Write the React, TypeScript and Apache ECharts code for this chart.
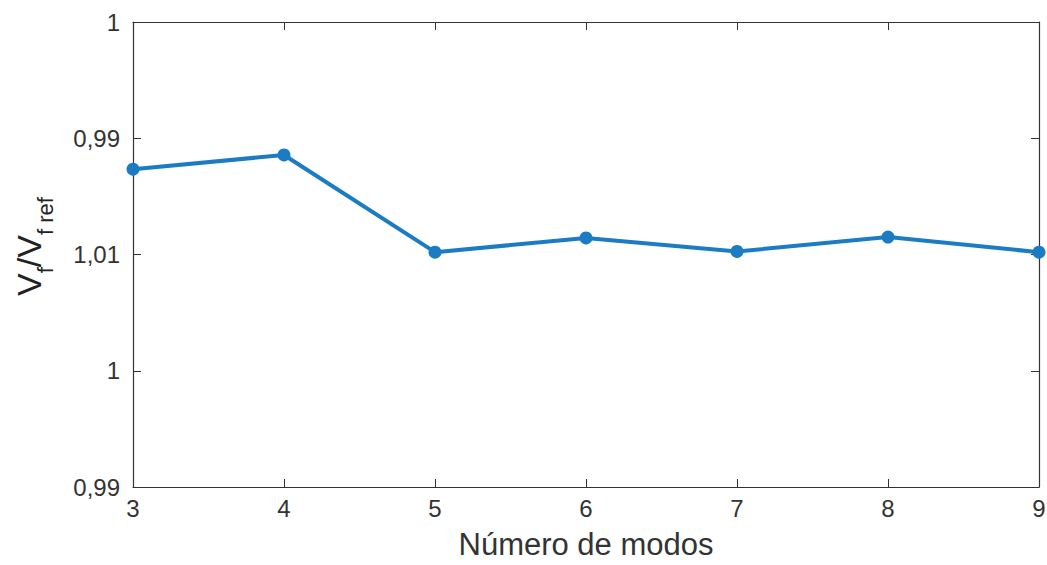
import React, { useEffect, useRef } from "react";
import * as echarts from "echarts";

const modos = [3, 4, 5, 6, 7, 8, 9];
const ratio = [1.00367, 1.00428, 1.0001, 1.00071, 1.00013, 1.00075, 1.0001];
const yTickLabels = ["0,99", "1", "1,01", "0,99", "1"];
const Y_MIN = 0.99;
const Y_MAX = 1.01;
const Y_STEP = 0.005;

export default function App() {
  const ref = useRef<HTMLDivElement>(null);
  useEffect(() => {
    document.body.style.margin = "0";
    const chart = echarts.init(ref.current!, null, { renderer: "svg" });
    const font = "'Liberation Sans', Arial, sans-serif";
    const axisLine = { show: true, lineStyle: { color: "#333", width: 1.2 } };
    chart.setOption({
      animation: false,
      backgroundColor: "#fff",
      grid: { left: 133, right: 8, top: 22, bottom: 78, outerBoundsMode: "none", containLabel: false },
      xAxis: [
        {
          type: "value",
          min: 3,
          max: 9,
          interval: 1,
          axisLine,
          axisTick: { inside: true, length: 8, lineStyle: { color: "#333" } },
          splitLine: { show: false },
          axisLabel: { fontSize: 24, color: "#333", fontFamily: font, margin: 9 },
          name: "Número de modos",
          nameLocation: "middle",
          nameGap: 42,
          nameTextStyle: { fontSize: 31, color: "#333", fontFamily: font },
        },
        {
          type: "value",
          position: "top",
          min: 3,
          max: 9,
          interval: 1,
          axisLine,
          axisTick: { inside: true, length: 8, lineStyle: { color: "#333" } },
          splitLine: { show: false },
          axisLabel: { show: false },
        },
      ],
      yAxis: [
        {
          type: "value",
          min: Y_MIN,
          max: Y_MAX,
          interval: Y_STEP,
          axisLine,
          axisTick: { inside: true, length: 8, lineStyle: { color: "#333" } },
          splitLine: { show: false },
          axisLabel: {
            fontSize: 24,
            color: "#333",
            fontFamily: font,
            margin: 13,
            formatter: (v: number) => yTickLabels[Math.round((v - Y_MIN) / Y_STEP)] ?? "",
          },
        },
        {
          type: "value",
          position: "right",
          min: Y_MIN,
          max: Y_MAX,
          interval: Y_STEP,
          axisLine,
          axisTick: { inside: true, length: 8, lineStyle: { color: "#333" } },
          splitLine: { show: false },
          axisLabel: { show: false },
        },
      ],
      graphic: [
        {
          type: "text",
          x: 12,
          y: 296,
          rotation: Math.PI / 2,
          style: {
            text: "{v|V}{s|f}{v|/V}{s|f ref}",
            fill: "#222",
            rich: {
              v: { fontSize: 34, fontFamily: font, fill: "#222", verticalAlign: "top", lineHeight: 36 },
              s: { fontSize: 22, fontFamily: font, fill: "#222", verticalAlign: "top", padding: [22, 0, 0, 0], lineHeight: 22 },
            },
          },
        },
      ],
      series: [
        {
          type: "line",
          data: modos.map((m, i) => [m, ratio[i]]),
          lineStyle: { color: "#1b7cc4", width: 4 },
          itemStyle: { color: "#1b7cc4" },
          symbol: "circle",
          symbolSize: 13,
          clip: false,
        },
      ],
    });
    return () => chart.dispose();
  }, []);
  return <div ref={ref} style={{ width: 1047, height: 565 }} />;
}
